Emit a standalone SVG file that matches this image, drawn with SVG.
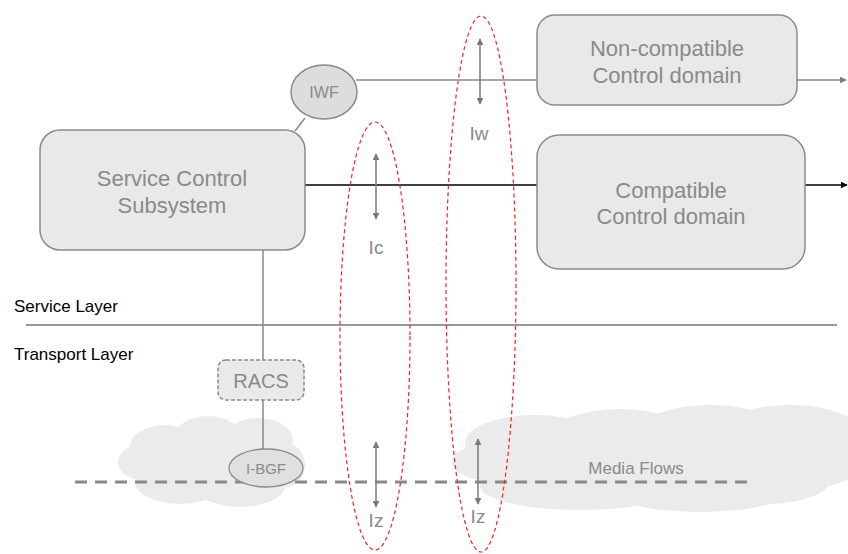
<svg xmlns="http://www.w3.org/2000/svg" width="848" height="554" viewBox="0 0 848 554">
<defs>
<style>
.box{fill:#e9e9e9;stroke:#8a8a8a;stroke-width:1.5}
.lbl{font-family:"Liberation Sans",Arial,sans-serif;fill:#8a8a8a;text-anchor:middle}
.blk{font-family:"Liberation Sans",Arial,sans-serif;fill:#000;font-size:17px}
.conn{stroke:#8a8a8a;stroke-width:1.5;fill:none}
.ia{stroke:#7a7a7a;stroke-width:1.5;fill:none;marker-start:url(#ag);marker-end:url(#ag)}
.red{fill:none;stroke:#ff2020;stroke-width:1.2;stroke-dasharray:4 3}
.cloud{fill:#ebebeb}
</style>
<marker id="ag" viewBox="0 0 10 10" refX="9" refY="5" markerWidth="7" markerHeight="7" orient="auto-start-reverse" markerUnits="userSpaceOnUse"><path d="M0,0 L10,5 L0,10 z" fill="#7a7a7a"/></marker>
<marker id="ab" viewBox="0 0 10 10" refX="9" refY="5" markerWidth="7" markerHeight="7" orient="auto" markerUnits="userSpaceOnUse"><path d="M0,0 L10,5 L0,10 z" fill="#000"/></marker>
</defs>
<rect width="848" height="554" fill="#fff"/>
<g id="cloud-left" class="cloud">
<ellipse cx="165" cy="447" rx="35" ry="22"/>
<ellipse cx="208" cy="440" rx="35" ry="24"/>
<ellipse cx="258" cy="440" rx="35" ry="22"/>
<ellipse cx="143" cy="462" rx="25" ry="18"/>
<ellipse cx="180" cy="482" rx="45" ry="22"/>
<ellipse cx="240" cy="486" rx="45" ry="21"/>
<ellipse cx="285" cy="465" rx="20" ry="22"/>
<ellipse cx="215" cy="465" rx="60" ry="25"/>
</g>
<g id="cloud-right" class="cloud">
<ellipse cx="535" cy="443" rx="70" ry="28"/>
<ellipse cx="620" cy="437" rx="70" ry="28"/>
<ellipse cx="710" cy="432" rx="70" ry="27"/>
<ellipse cx="790" cy="432" rx="70" ry="27"/>
<ellipse cx="500" cy="462" rx="48" ry="20"/>
<ellipse cx="580" cy="486" rx="100" ry="24"/>
<ellipse cx="700" cy="490" rx="90" ry="22"/>
<ellipse cx="765" cy="480" rx="65" ry="24"/>
<ellipse cx="810" cy="462" rx="50" ry="26"/>
<ellipse cx="830" cy="450" rx="30" ry="25"/>
<ellipse cx="660" cy="465" rx="150" ry="30"/>
</g>
<g id="layers">
<text class="blk" x="14" y="312">Service Layer</text>
<line x1="26" y1="325" x2="837" y2="325" stroke="#333" stroke-width="1.2"/>
<text class="blk" x="14" y="360">Transport Layer</text>
</g>
<g id="connectors">
<line class="conn" x1="305" y1="118" x2="295" y2="131"/>
<line class="conn" x1="356" y1="80" x2="537" y2="80"/>
<line x1="797" y1="80" x2="846" y2="80" stroke="#8a8a8a" stroke-width="1.5" marker-end="url(#ag)"/>
<line x1="305" y1="185" x2="847" y2="185" stroke="#000" stroke-width="1.3" marker-end="url(#ab)"/>
<line class="conn" x1="263" y1="250" x2="263" y2="360"/>
<line class="conn" x1="263" y1="400" x2="263" y2="450"/>
<line x1="75" y1="482" x2="748" y2="482" stroke="#888" stroke-width="3" stroke-dasharray="12 8"/>
<line class="ia" x1="376" y1="154" x2="376" y2="219"/>
<line class="ia" x1="480" y1="39" x2="480" y2="104"/>
<line class="ia" x1="376" y1="442" x2="376" y2="507"/>
<line class="ia" x1="478" y1="439" x2="478" y2="504"/>
</g>
<g id="scs">
<rect class="box" x="40" y="130" width="265" height="120" rx="20"/>
<text class="lbl" font-size="22" x="172" y="186">Service Control</text>
<text class="lbl" font-size="22" x="172" y="213">Subsystem</text>
</g>
<g id="iwf">
<ellipse cx="324" cy="92" rx="33" ry="27" fill="#ddd" stroke="#8a8a8a" stroke-width="1.5"/>
<text class="lbl" font-size="16" x="324" y="98">IWF</text>
</g>
<g id="noncompat">
<rect class="box" x="537" y="15" width="260" height="90" rx="18"/>
<text class="lbl" font-size="22" x="667" y="56">Non-compatible</text>
<text class="lbl" font-size="22" x="667" y="83">Control domain</text>
</g>
<g id="compat">
<rect class="box" x="537" y="135" width="268" height="134" rx="22"/>
<text class="lbl" font-size="22" x="671" y="198">Compatible</text>
<text class="lbl" font-size="22" x="671" y="224">Control domain</text>
</g>
<g id="racs">
<rect x="218" y="360" width="86" height="40" rx="8" fill="#e9e9e9" stroke="#8a8a8a" stroke-width="1.5" stroke-dasharray="4 2"/>
<text class="lbl" font-size="20" x="261" y="388">RACS</text>
</g>
<g id="ibgf">
<ellipse cx="266" cy="468" rx="37" ry="19" fill="#e0e0e0" stroke="#8a8a8a" stroke-width="1.3"/>
<text class="lbl" font-size="15" x="266" y="474">I-BGF</text>
</g>
<g id="media">
<text class="lbl" font-size="17" x="636" y="474">Media Flows</text>
</g>
<g id="interfaces">
<ellipse class="red" cx="375" cy="336" rx="35" ry="214"/>
<ellipse class="red" cx="481" cy="284" rx="35" ry="268"/>
<text class="lbl" font-size="19" x="376" y="254">Ic</text>
<text class="lbl" font-size="19" x="479" y="140">Iw</text>
<text class="lbl" font-size="19" x="376" y="527">Iz</text>
<text class="lbl" font-size="19" x="478" y="523">Iz</text>
</g>
</svg>
